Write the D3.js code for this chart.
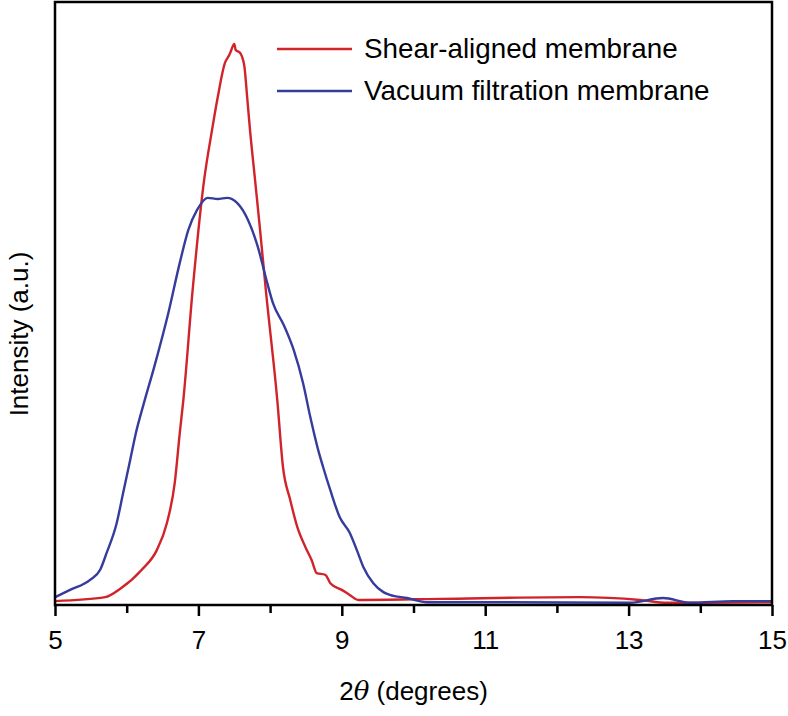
<!DOCTYPE html>
<html>
<head>
<meta charset="utf-8">
<script src="https://cdn.jsdelivr.net/npm/d3@7"></script>
<style>
  body { margin: 0; background: #fff; }
  svg { display: block; font-family: "Liberation Sans", Arial, Helvetica, sans-serif; }
</style>
</head>
<body>
<svg id="chart" width="788" height="716"></svg>
<script>
// ---- data ----
const seriesNames = ["Shear-aligned membrane", "Vacuum filtration membrane"];
const seriesColors = ["#d1232a", "#353c9b"];

const shearX = [5.00, 5.70, 5.91, 6.21, 6.42, 6.56, 6.67, 6.74, 6.79, 6.92, 7.08, 7.19, 7.27, 7.37, 7.43, 7.45, 7.50, 7.52, 7.58, 7.64, 7.68, 7.72, 7.79, 7.86, 7.94, 8.10, 8.18, 8.28, 8.38, 8.49, 8.58, 8.65, 8.77, 8.84, 9.00, 9.11, 9.23, 10.37, 12.32, 13.16, 13.54, 14.00, 15.00];
const shearY = [0.7, 1.4, 2.9, 6.3, 9.8, 14.6, 21.8, 30.7, 36.6, 56.3, 75.9, 84.8, 90.7, 96.8, 98.2, 98.8, 100.2, 99.1, 98.6, 96.3, 90.7, 84.8, 75.9, 67.0, 56.3, 36.6, 24.6, 18.8, 13.9, 10.4, 8.0, 5.7, 5.4, 3.9, 2.7, 1.8, 0.9, 1.1, 1.4, 0.9, 0.4, 0.4, 0.5];

const vacuumX = [5.00, 5.21, 5.49, 5.63, 5.72, 5.86, 5.95, 6.05, 6.13, 6.23, 6.39, 6.58, 6.74, 6.86, 6.98, 7.13, 7.27, 7.40, 7.54, 7.69, 7.83, 7.95, 8.04, 8.19, 8.33, 8.46, 8.56, 8.67, 8.74, 8.84, 8.97, 9.11, 9.21, 9.30, 9.44, 9.58, 9.67, 9.91, 10.19, 11.20, 13.02, 13.48, 13.86, 14.46, 15.00];
const vacuumY = [1.4, 2.7, 4.5, 6.3, 9.3, 14.6, 20.0, 26.0, 30.8, 35.6, 42.8, 52.1, 61.1, 67.0, 70.5, 72.7, 72.5, 72.7, 71.8, 68.8, 63.9, 58.0, 53.9, 50.0, 45.5, 39.6, 33.6, 27.7, 24.6, 20.5, 15.7, 12.9, 9.8, 6.8, 3.9, 2.3, 1.8, 1.25, 0.5, 0.5, 0.4, 1.25, 0.4, 0.7, 0.7];

const majorTicks = [5, 7, 9, 11, 13, 15];
const minorTicks = [6, 8, 10, 12, 14];

// ---- layout ----
const svg = d3.select("#chart");
const L = 55, R = 772, T = 2, B = 605;
const FS = 26;

const x = d3.scaleLinear().domain([5, 15]).range([L, R]);
const y = d3.scaleLinear().domain([0, 100]).range([B, 45]);

// lines
const line = d3.line().x(d => x(d[0])).y(d => y(d[1])).curve(d3.curveMonotoneX);
const series = [
  d3.zip(shearX, shearY),
  d3.zip(vacuumX, vacuumY)
];
svg.append("g").selectAll("path").data(series).join("path")
  .attr("d", line)
  .attr("fill", "none")
  .attr("stroke", (d, i) => seriesColors[i])
  .attr("stroke-width", 2.4)
  .attr("stroke-linejoin", "round");

// frame
svg.append("rect")
  .attr("x", L).attr("y", T).attr("width", R - L).attr("height", B - T)
  .attr("fill", "none").attr("stroke", "#000").attr("stroke-width", 2.5);

// x axis
const xAxis = d3.axisBottom(x).tickValues(majorTicks).tickSize(11).tickPadding(15).tickFormat(d3.format("d"));
const gx = svg.append("g").attr("transform", `translate(0,${B})`).call(xAxis);
gx.select(".domain").remove();
gx.selectAll(".tick line").attr("stroke", "#000").attr("stroke-width", 2.5);
gx.selectAll(".tick text").attr("font-size", FS).attr("fill", "#000")
  .attr("font-family", "'Liberation Sans', Arial, sans-serif");

const xMinor = d3.axisBottom(x).tickValues(minorTicks).tickSize(8).tickFormat("");
const gxm = svg.append("g").attr("transform", `translate(0,${B})`).call(xMinor);
gxm.select(".domain").remove();
gxm.selectAll(".tick line").attr("stroke", "#000").attr("stroke-width", 2.5);

// axis titles
const xt = svg.append("text")
  .attr("x", (L + R) / 2).attr("y", 700)
  .attr("text-anchor", "middle").attr("font-size", FS).attr("fill", "#000");
xt.append("tspan").text("2");
xt.append("tspan").attr("font-style", "italic").attr("font-family", "'DejaVu Serif', serif").text("θ");
xt.append("tspan").text(" (degrees)");

svg.append("text")
  .attr("transform", `translate(28,334) rotate(-90)`)
  .attr("text-anchor", "middle").attr("font-size", FS).attr("fill", "#000")
  .text("Intensity (a.u.)");

// legend
const legY = [49, 91];
const leg = svg.append("g").selectAll("g").data(seriesNames).join("g")
  .attr("transform", (d, i) => `translate(0,${legY[i]})`);
leg.append("line").attr("x1", 277).attr("x2", 352).attr("y1", 0).attr("y2", 0)
  .attr("stroke", (d, i) => seriesColors[i]).attr("stroke-width", 2.4);
leg.append("text").attr("x", 364).attr("y", 9)
  .attr("font-size", 27.8).attr("fill", "#000")
  .text(d => d);
</script>
</body>
</html>
